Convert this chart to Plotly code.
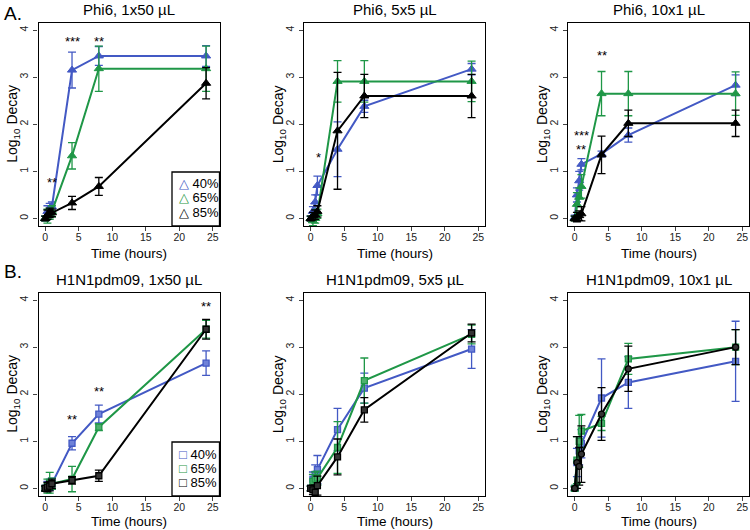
import plotly.graph_objects as go

T = [0, 0.33, 0.67, 1, 4, 8, 24]
labels = ["40%", "65%", "85%"]
panel_titles = ["Phi6, 1x50 µL", "Phi6, 5x5 µL", "Phi6, 10x1 µL",
                "H1N1pdm09, 1x50 µL", "H1N1pdm09, 5x5 µL", "H1N1pdm09, 10x1 µL"]
x_title = "Time (hours)"
y_title = "Log<sub>10</sub> Decay"

# Phi6, 1x50
a1_40 = [0, 0.15, 0.2, 0.25, 3.15, 3.45, 3.45]
a1_40_err = [0.05, 0.12, 0.12, 0.1, 0.38, 0.2, 0.22]
a1_65 = [0, 0.05, 0.1, 0.15, 1.33, 3.18, 3.18]
a1_65_err = [0.05, 0.15, 0.12, 0.12, 0.28, 0.48, 0.48]
a1_85 = [0, 0.08, 0.12, 0.12, 0.33, 0.68, 2.87]
a1_85_err = [0.05, 0.1, 0.1, 0.08, 0.14, 0.19, 0.33]
a1_stars = [(1, 0.76, "**"), (4, 3.76, "***"), (8, 3.76, "**")]

# Phi6, 5x5
a2_40 = [0, 0.15, 0.35, 0.7, 1.47, 2.38, 3.17]
a2_40_err = [0.05, 0.1, 0.15, 0.2, 0.58, 0.13, 0.12]
a2_65 = [0, -0.05, 0.0, 0.1, 2.91, 2.91, 2.91]
a2_65_err = [0.05, 0.1, 0.1, 0.1, 0.44, 0.44, 0.43]
a2_85 = [0, 0.05, 0.08, 0.15, 1.86, 2.6, 2.6]
a2_85_err = [0.05, 0.08, 0.1, 0.12, 1.24, 0.46, 0.46]
a2_stars = [(1.1, 1.3, "*")]

# Phi6, 10x1
a3_40 = [0.02, 0.5, 0.8, 1.15, 1.37, 1.77, 2.83]
a3_40_err = [0.05, 0.15, 0.2, 0.12, 0.06, 0.15, 0.22]
a3_65 = [0, 0.3, 0.45, 0.68, 2.65, 2.65, 2.65]
a3_65_err = [0.05, 0.25, 0.2, 0.25, 0.47, 0.47, 0.46]
a3_85 = [0, 0.03, 0.06, 0.1, 1.35, 2.02, 2.02]
a3_85_err = [0.05, 0.1, 0.1, 0.15, 0.4, 0.28, 0.28]
a3_stars = [(1, 1.77, "***"), (1, 1.47, "**"), (4, 3.47, "**")]

# H1N1pdm09, 1x50
b1_40 = [0, 0.05, 0.08, 0.1, 0.96, 1.58, 2.66]
b1_40_err = [0.05, 0.1, 0.12, 0.12, 0.14, 0.19, 0.26]
b1_65 = [0, 0.05, 0.12, 0.1, 0.2, 1.3, 3.38]
b1_65_err = [0.05, 0.15, 0.22, 0.12, 0.27, 0.07, 0.19]
b1_85 = [0, 0.03, 0.05, 0.1, 0.17, 0.27, 3.38]
b1_85_err = [0.05, 0.1, 0.1, 0.1, 0.08, 0.12, 0.21]
b1_stars = [(4, 1.47, "**"), (8, 2.05, "**"), (24, 3.86, "**")]

# H1N1pdm09, 5x5
b2_40 = [0, 0.2, 0.3, 0.4, 1.25, 2.13, 2.96]
b2_40_err = [0.05, 0.15, 0.2, 0.3, 0.45, 0.32, 0.41]
b2_65 = [0, 0.15, 0.2, 0.22, 0.87, 2.29, 3.27]
b2_65_err = [0.05, 0.15, 0.15, 0.15, 0.55, 0.48, 0.2]
b2_85 = [0, -0.03, -0.08, 0.06, 0.67, 1.67, 3.3]
b2_85_err = [0.05, 0.1, 0.15, 0.2, 0.38, 0.26, 0.19]
b2_stars = []

# H1N1pdm09, 10x1
b3_40 = [0, 0.55, 0.8, 0.95, 1.92, 2.25, 2.7]
b3_40_err = [0.05, 0.3, 0.3, 0.3, 0.83, 0.55, 0.85]
b3_65 = [0, 0.6, 1.0, 1.22, 1.38, 2.75, 3.0]
b3_65_err = [0.05, 0.5, 0.55, 0.35, 0.15, 0.33, 0.37]
b3_85 = [0, 0.55, 0.47, 0.73, 1.58, 2.54, 3.0]
b3_85_err = [0.03, 0.55, 0.4, 0.6, 0.56, 0.48, 0.37]
b3_stars = []

x_ticks = [0, 5, 10, 15, 20, 25]
y_ticks = [0, 1, 2, 3, 4]

BLUE = "#4359c4"
GREEN = "#1f9747"
BLACK = "#000000"
FILL = {BLUE: "#6f82d8", GREEN: "#4fb06f", BLACK: "#333333"}
FONT = "Liberation Sans, Arial, sans-serif"

panels = [
    ([a1_40, a1_65, a1_85], [a1_40_err, a1_65_err, a1_85_err], a1_stars, ["triangle-up"] * 3),
    ([a2_40, a2_65, a2_85], [a2_40_err, a2_65_err, a2_85_err], a2_stars, ["triangle-up"] * 3),
    ([a3_40, a3_65, a3_85], [a3_40_err, a3_65_err, a3_85_err], a3_stars, ["triangle-up"] * 3),
    ([b1_40, b1_65, b1_85], [b1_40_err, b1_65_err, b1_85_err], b1_stars, ["square"] * 3),
    ([b2_40, b2_65, b2_85], [b2_40_err, b2_65_err, b2_85_err], b2_stars, ["square"] * 3),
    ([b3_40, b3_65, b3_85], [b3_40_err, b3_65_err, b3_85_err], b3_stars, ["square", "square", "circle"]),
]
colors = [BLUE, GREEN, BLACK]

W, H = 750, 530
col_px = [(38.5, 219.5), (304, 485), (568, 749)]
row_px = [(22.5, 226), (292.5, 496)]
xtitle_px = [253, 521.5]

fig = go.Figure()
annotations = []
shapes = []

for i, (series, errs, stars, syms) in enumerate(panels):
    r, c = divmod(i, 3)
    ax = "" if i == 0 else str(i + 1)
    xa, ya = "x" + ax, "y" + ax
    for vals, err, col, sym in zip(series, errs, colors, syms):
        tri = sym.startswith("triangle")
        fig.add_trace(go.Scatter(
            x=T, y=vals, mode="lines+markers", xaxis=xa, yaxis=ya,
            line=dict(color=col, width=2),
            marker=dict(symbol=sym, size=8 if tri else 6,
                        color=col if tri else FILL[col],
                        line=dict(color=col, width=1 if tri else 1.3)),
            error_y=dict(type="data", array=err, visible=True, color=col,
                         thickness=1.3, width=4),
            showlegend=False, hoverinfo="skip"))
    x0, x1 = col_px[c]
    y0, y1 = row_px[r]
    dom_x = [x0 / W, x1 / W]
    dom_y = [1 - y1 / H, 1 - y0 / H]
    fig.layout["xaxis" + ax] = dict(
        domain=dom_x, range=[-1, 26], tickvals=x_ticks, ticks="outside", ticklen=4,
        tickwidth=1, showline=True, mirror=True, linecolor="black", linewidth=1.3,
        showgrid=False, zeroline=False, anchor=ya, automargin=False, ticklabelstandoff=-3,
        tickfont=dict(size=10.5, family=FONT, color="#222"))
    fig.layout["yaxis" + ax] = dict(
        domain=dom_y, range=[-0.16, 4.16], tickvals=y_ticks, ticks="outside", ticklen=4,
        tickwidth=1, showline=True, mirror=True, linecolor="black", linewidth=1.3,
        showgrid=False, zeroline=False, anchor=xa, tickangle=-90, automargin=False,
        ticklabelstandoff=1,
        tickfont=dict(size=10.5, family=FONT, color="#222"))
    annotations.append(dict(
        text=panel_titles[i], xref="paper", yref="paper",
        x=(dom_x[0] + dom_x[1]) / 2, y=dom_y[1], yshift=3,
        xanchor="center", yanchor="bottom", showarrow=False,
        font=dict(size=15, family=FONT, color="black")))
    annotations.append(dict(
        text=x_title, xref="paper", yref="paper",
        x=(dom_x[0] + dom_x[1]) / 2, y=1 - xtitle_px[r] / H,
        xanchor="center", yanchor="middle", showarrow=False,
        font=dict(size=13.5, family=FONT, color="black")))
    annotations.append(dict(
        text=y_title, xref="paper", yref="paper", textangle=-90,
        x=(x0 - 25) / W, y=(dom_y[0] + dom_y[1]) / 2,
        xanchor="center", yanchor="middle", showarrow=False,
        font=dict(size=14, family=FONT, color="black")))
    for sx, sy, st in stars:
        annotations.append(dict(text=st, x=sx, y=sy, xref=xa, yref=ya, showarrow=False,
                                font=dict(size=13, family=FONT, color="black"),
                                xanchor="center", yanchor="middle"))

# legends (panels A1 and B1)
for r, glyph in [(0, "△"), (1, "□")]:
    x0, x1 = col_px[0]
    y0, y1 = row_px[r]
    lx0, ly_bot = 172, y1
    ly_top = y1 - 54
    shapes.append(dict(type="rect", xref="paper", yref="paper",
                       x0=lx0 / W, x1=x1 / W, y0=1 - ly_bot / H, y1=1 - ly_top / H,
                       line=dict(color="black", width=1.3), fillcolor="white"))
    for k, (lab, col) in enumerate(zip(labels, colors)):
        yy = ly_top + 12 + k * 14
        annotations.append(dict(
            text=f"<span style='color:{col}'>{glyph}</span> {lab}",
            xref="paper", yref="paper", x=(lx0 + 5) / W, y=1 - yy / H,
            xanchor="left", yanchor="middle", showarrow=False,
            font=dict(size=13, family=FONT, color="black")))

annotations.append(dict(text="A.", xref="paper", yref="paper", x=2 / W, y=1 - 1 / H,
                        xanchor="left", yanchor="top", showarrow=False,
                        font=dict(size=19, family=FONT, color="black")))
annotations.append(dict(text="B.", xref="paper", yref="paper", x=2 / W, y=1 - 259 / H,
                        xanchor="left", yanchor="top", showarrow=False,
                        font=dict(size=19, family=FONT, color="black")))

fig.update_layout(width=W, height=H, margin=dict(l=0, r=0, t=0, b=0),
                  paper_bgcolor="white", plot_bgcolor="white",
                  annotations=annotations, shapes=shapes, showlegend=False)
fig.write_html("out.html", config={"displayModeBar": False},
               post_script="document.body.style.margin='0px';document.body.style.overflow='hidden';")
